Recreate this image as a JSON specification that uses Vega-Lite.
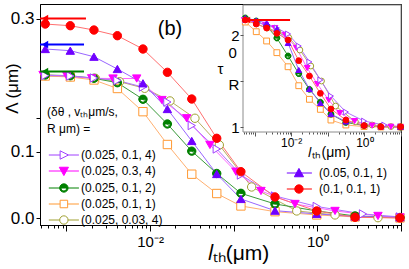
{
"$schema":"https://vega.github.io/schema/vega-lite/v6.json",
"width":361,"height":221,"autosize":"none",
"padding":{"left":40,"top":4,"right":8,"bottom":44},
"background":"white",
"config":{"view":{"stroke":"#000","strokeWidth":1},"font":"Liberation Sans",
"axis":{"grid":false,"domainColor":"#000","tickColor":"#000","labelColor":"#000","titleColor":"#000","labelFont":"Liberation Sans","titleFont":"Liberation Sans","titleFontWeight":"normal"},
"legend":{"labelFont":"Liberation Sans","labelFontSize":12,"titleFont":"Liberation Sans","titleFontSize":12,"titleFontWeight":"normal","padding":0,"symbolStrokeWidth":1,"labelLimit":0,"titleLimit":0}},
"datasets":{
"main":[
{"s":"(0.025, 0.03, 4)","x":0.000557,"y":0.2141},{"s":"(0.025, 0.03, 4)","x":0.00111,"y":0.2126},{"s":"(0.025, 0.03, 4)","x":0.00221,"y":0.2102},{"s":"(0.025, 0.03, 4)","x":0.00432,"y":0.2051},{"s":"(0.025, 0.03, 4)","x":0.00861,"y":0.1952},{"s":"(0.025, 0.03, 4)","x":0.0173,"y":0.1762},{"s":"(0.025, 0.03, 4)","x":0.0344,"y":0.1502},{"s":"(0.025, 0.03, 4)","x":0.0673,"y":0.1101},{"s":"(0.025, 0.03, 4)","x":0.164,"y":0.047},{"s":"(0.025, 0.03, 4)","x":0.568,"y":0.011},{"s":"(0.025, 0.03, 4)","x":1.63,"y":0.005},{"s":"(0.025, 0.03, 4)","x":5.32,"y":0.0009},
{"s":"(0.025, 0.1, 1)","x":0.000557,"y":0.2137},{"s":"(0.025, 0.1, 1)","x":0.00111,"y":0.2122},{"s":"(0.025, 0.1, 1)","x":0.00213,"y":0.2077},{"s":"(0.025, 0.1, 1)","x":0.00406,"y":0.1949},{"s":"(0.025, 0.1, 1)","x":0.00822,"y":0.1601},{"s":"(0.025, 0.1, 1)","x":0.0161,"y":0.1108},{"s":"(0.025, 0.1, 1)","x":0.0315,"y":0.0662},{"s":"(0.025, 0.1, 1)","x":0.0627,"y":0.0372},{"s":"(0.025, 0.1, 1)","x":0.122,"y":0.0185},{"s":"(0.025, 0.1, 1)","x":0.312,"y":0.0099},{"s":"(0.025, 0.1, 1)","x":0.984,"y":0.005},{"s":"(0.025, 0.1, 1)","x":2.83,"y":0.002},{"s":"(0.025, 0.1, 1)","x":9.75,"y":0.0005},
{"s":"(0.025, 0.1, 2)","x":0.000557,"y":0.2152},{"s":"(0.025, 0.1, 2)","x":0.00111,"y":0.2141},{"s":"(0.025, 0.1, 2)","x":0.00213,"y":0.2102},{"s":"(0.025, 0.1, 2)","x":0.00406,"y":0.2036},{"s":"(0.025, 0.1, 2)","x":0.00822,"y":0.1787},{"s":"(0.025, 0.1, 2)","x":0.0161,"y":0.1416},{"s":"(0.025, 0.1, 2)","x":0.0315,"y":0.1008},{"s":"(0.025, 0.1, 2)","x":0.0627,"y":0.0673},{"s":"(0.025, 0.1, 2)","x":0.122,"y":0.0375},{"s":"(0.025, 0.1, 2)","x":0.312,"y":0.0215},{"s":"(0.025, 0.1, 2)","x":0.984,"y":0.011},{"s":"(0.025, 0.1, 2)","x":2.83,"y":0.0035},{"s":"(0.025, 0.1, 2)","x":9.75,"y":0.0012},
{"s":"(0.025, 0.3, 4)","x":0.000524,"y":0.2152},{"s":"(0.025, 0.3, 4)","x":0.00101,"y":0.2137},{"s":"(0.025, 0.3, 4)","x":0.002,"y":0.2102},{"s":"(0.025, 0.3, 4)","x":0.0036,"y":0.2099},{"s":"(0.025, 0.3, 4)","x":0.00692,"y":0.2099},{"s":"(0.025, 0.3, 4)","x":0.01386,"y":0.1776},{"s":"(0.025, 0.3, 4)","x":0.0274,"y":0.1502},{"s":"(0.025, 0.3, 4)","x":0.052,"y":0.1101},{"s":"(0.025, 0.3, 4)","x":0.1064,"y":0.07},{"s":"(0.025, 0.3, 4)","x":0.212,"y":0.041},{"s":"(0.025, 0.3, 4)","x":0.541,"y":0.0215},{"s":"(0.025, 0.3, 4)","x":1.63,"y":0.011},{"s":"(0.025, 0.3, 4)","x":5.32,"y":0.0035},{"s":"(0.025, 0.3, 4)","x":9.75,"y":0.0012},
{"s":"(0.025, 0.1, 4)","x":0.000557,"y":0.2144},{"s":"(0.025, 0.1, 4)","x":0.00111,"y":0.2137},{"s":"(0.025, 0.1, 4)","x":0.00213,"y":0.2107},{"s":"(0.025, 0.1, 4)","x":0.00406,"y":0.2069},{"s":"(0.025, 0.1, 4)","x":0.00822,"y":0.1971},{"s":"(0.025, 0.1, 4)","x":0.0161,"y":0.1746},{"s":"(0.025, 0.1, 4)","x":0.0315,"y":0.1393},{"s":"(0.025, 0.1, 4)","x":0.0627,"y":0.1041},{"s":"(0.025, 0.1, 4)","x":0.122,"y":0.065},{"s":"(0.025, 0.1, 4)","x":0.312,"y":0.0335},{"s":"(0.025, 0.1, 4)","x":0.984,"y":0.0177},{"s":"(0.025, 0.1, 4)","x":3.52,"y":0.0065},{"s":"(0.025, 0.1, 4)","x":9.75,"y":0.002},
{"s":"(0.05, 0.1, 1)","x":0.000557,"y":0.2542},{"s":"(0.05, 0.1, 1)","x":0.00111,"y":0.2517},{"s":"(0.05, 0.1, 1)","x":0.00213,"y":0.2426},{"s":"(0.05, 0.1, 1)","x":0.00406,"y":0.2242},{"s":"(0.05, 0.1, 1)","x":0.00822,"y":0.2027},{"s":"(0.05, 0.1, 1)","x":0.0161,"y":0.1641},{"s":"(0.05, 0.1, 1)","x":0.0315,"y":0.1161},{"s":"(0.05, 0.1, 1)","x":0.0627,"y":0.0665},{"s":"(0.05, 0.1, 1)","x":0.122,"y":0.029},{"s":"(0.05, 0.1, 1)","x":0.312,"y":0.0114},{"s":"(0.05, 0.1, 1)","x":0.984,"y":0.0065},{"s":"(0.05, 0.1, 1)","x":2.83,"y":0.0027},{"s":"(0.05, 0.1, 1)","x":9.75,"y":0.0015},
{"s":"(0.1, 0.1, 1)","x":0.000557,"y":0.2917},{"s":"(0.1, 0.1, 1)","x":0.00111,"y":0.2892},{"s":"(0.1, 0.1, 1)","x":0.00213,"y":0.2827},{"s":"(0.1, 0.1, 1)","x":0.00406,"y":0.2742},{"s":"(0.1, 0.1, 1)","x":0.00822,"y":0.2542},{"s":"(0.1, 0.1, 1)","x":0.0161,"y":0.2192},{"s":"(0.1, 0.1, 1)","x":0.0315,"y":0.1791},{"s":"(0.1, 0.1, 1)","x":0.0627,"y":0.1201},{"s":"(0.1, 0.1, 1)","x":0.122,"y":0.07},{"s":"(0.1, 0.1, 1)","x":0.312,"y":0.032},{"s":"(0.1, 0.1, 1)","x":0.984,"y":0.011},{"s":"(0.1, 0.1, 1)","x":2.83,"y":0.0015},{"s":"(0.1, 0.1, 1)","x":9.75,"y":0.0005}
],
"inset":[
{"s":"(0.025, 0.03, 4)","x":0.000557,"t":2.163},{"s":"(0.025, 0.03, 4)","x":0.00111,"t":2.12},{"s":"(0.025, 0.03, 4)","x":0.00221,"t":2.076},{"s":"(0.025, 0.03, 4)","x":0.00432,"t":2.033},{"s":"(0.025, 0.03, 4)","x":0.00861,"t":1.971},{"s":"(0.025, 0.03, 4)","x":0.0173,"t":1.837},{"s":"(0.025, 0.03, 4)","x":0.0344,"t":1.663},{"s":"(0.025, 0.03, 4)","x":0.0673,"t":1.5},{"s":"(0.025, 0.03, 4)","x":0.164,"t":1.228},{"s":"(0.025, 0.03, 4)","x":0.568,"t":1.058},{"s":"(0.025, 0.03, 4)","x":1.63,"t":1.022},{"s":"(0.025, 0.03, 4)","x":5.32,"t":1.005},
{"s":"(0.025, 0.1, 1)","x":0.000557,"t":2.141},{"s":"(0.025, 0.1, 1)","x":0.00111,"t":2.036},{"s":"(0.025, 0.1, 1)","x":0.00213,"t":1.935},{"s":"(0.025, 0.1, 1)","x":0.00406,"t":1.808},{"s":"(0.025, 0.1, 1)","x":0.00822,"t":1.655},{"s":"(0.025, 0.1, 1)","x":0.0161,"t":1.449},{"s":"(0.025, 0.1, 1)","x":0.0315,"t":1.301},{"s":"(0.025, 0.1, 1)","x":0.0627,"t":1.192},{"s":"(0.025, 0.1, 1)","x":0.122,"t":1.076},{"s":"(0.025, 0.1, 1)","x":0.312,"t":1.022},{"s":"(0.025, 0.1, 1)","x":0.984,"t":1.005},{"s":"(0.025, 0.1, 1)","x":2.83,"t":1.0},{"s":"(0.025, 0.1, 1)","x":9.75,"t":1.0},
{"s":"(0.025, 0.1, 2)","x":0.000557,"t":2.185},{"s":"(0.025, 0.1, 2)","x":0.00111,"t":2.152},{"s":"(0.025, 0.1, 2)","x":0.00213,"t":2.098},{"s":"(0.025, 0.1, 2)","x":0.00406,"t":1.967},{"s":"(0.025, 0.1, 2)","x":0.00822,"t":1.772},{"s":"(0.025, 0.1, 2)","x":0.0161,"t":1.58},{"s":"(0.025, 0.1, 2)","x":0.0315,"t":1.41},{"s":"(0.025, 0.1, 2)","x":0.0627,"t":1.27},{"s":"(0.025, 0.1, 2)","x":0.122,"t":1.14},{"s":"(0.025, 0.1, 2)","x":0.312,"t":1.05},{"s":"(0.025, 0.1, 2)","x":0.984,"t":1.016},{"s":"(0.025, 0.1, 2)","x":2.83,"t":1.005},{"s":"(0.025, 0.1, 2)","x":9.75,"t":1.0},
{"s":"(0.025, 0.3, 4)","x":0.000524,"t":2.163},{"s":"(0.025, 0.3, 4)","x":0.00101,"t":2.141},{"s":"(0.025, 0.3, 4)","x":0.002,"t":2.109},{"s":"(0.025, 0.3, 4)","x":0.0036,"t":2.076},{"s":"(0.025, 0.3, 4)","x":0.00692,"t":2.0},{"s":"(0.025, 0.3, 4)","x":0.01386,"t":1.859},{"s":"(0.025, 0.3, 4)","x":0.0274,"t":1.641},{"s":"(0.025, 0.3, 4)","x":0.052,"t":1.467},{"s":"(0.025, 0.3, 4)","x":0.1064,"t":1.293},{"s":"(0.025, 0.3, 4)","x":0.212,"t":1.152},{"s":"(0.025, 0.3, 4)","x":0.541,"t":1.065},{"s":"(0.025, 0.3, 4)","x":1.63,"t":1.016},{"s":"(0.025, 0.3, 4)","x":5.32,"t":1.003},{"s":"(0.025, 0.3, 4)","x":9.75,"t":1.0},
{"s":"(0.025, 0.1, 4)","x":0.000557,"t":2.163},{"s":"(0.025, 0.1, 4)","x":0.00111,"t":2.141},{"s":"(0.025, 0.1, 4)","x":0.00213,"t":2.109},{"s":"(0.025, 0.1, 4)","x":0.00406,"t":2.076},{"s":"(0.025, 0.1, 4)","x":0.00822,"t":2.011},{"s":"(0.025, 0.1, 4)","x":0.0161,"t":1.88},{"s":"(0.025, 0.1, 4)","x":0.0315,"t":1.707},{"s":"(0.025, 0.1, 4)","x":0.0627,"t":1.511},{"s":"(0.025, 0.1, 4)","x":0.122,"t":1.337},{"s":"(0.025, 0.1, 4)","x":0.312,"t":1.163},{"s":"(0.025, 0.1, 4)","x":0.984,"t":1.065},{"s":"(0.025, 0.1, 4)","x":3.52,"t":1.022},{"s":"(0.025, 0.1, 4)","x":9.75,"t":1.005},
{"s":"(0.05, 0.1, 1)","x":0.000557,"t":2.185},{"s":"(0.05, 0.1, 1)","x":0.00111,"t":2.158},{"s":"(0.05, 0.1, 1)","x":0.00213,"t":2.13},{"s":"(0.05, 0.1, 1)","x":0.00406,"t":2.065},{"s":"(0.05, 0.1, 1)","x":0.00822,"t":1.913},{"s":"(0.05, 0.1, 1)","x":0.0161,"t":1.62},{"s":"(0.05, 0.1, 1)","x":0.0315,"t":1.413},{"s":"(0.05, 0.1, 1)","x":0.0627,"t":1.261},{"s":"(0.05, 0.1, 1)","x":0.122,"t":1.141},{"s":"(0.05, 0.1, 1)","x":0.312,"t":1.06},{"s":"(0.05, 0.1, 1)","x":0.984,"t":1.022},{"s":"(0.05, 0.1, 1)","x":2.83,"t":1.005},{"s":"(0.05, 0.1, 1)","x":9.75,"t":1.0},
{"s":"(0.1, 0.1, 1)","x":0.000557,"t":2.163},{"s":"(0.1, 0.1, 1)","x":0.00111,"t":2.12},{"s":"(0.1, 0.1, 1)","x":0.00213,"t":2.076},{"s":"(0.1, 0.1, 1)","x":0.00406,"t":2.018},{"s":"(0.1, 0.1, 1)","x":0.00822,"t":1.946},{"s":"(0.1, 0.1, 1)","x":0.0161,"t":1.721},{"s":"(0.1, 0.1, 1)","x":0.0315,"t":1.554},{"s":"(0.1, 0.1, 1)","x":0.0627,"t":1.366},{"s":"(0.1, 0.1, 1)","x":0.122,"t":1.196},{"s":"(0.1, 0.1, 1)","x":0.312,"t":1.076},{"s":"(0.1, 0.1, 1)","x":0.984,"t":1.016},{"s":"(0.1, 0.1, 1)","x":2.83,"t":1.003},{"s":"(0.1, 0.1, 1)","x":9.75,"t":1.003}
],
"arrows":[{"x1":0.000482,"xh":0.000553,"y":0.3,"x2":0.00171,"c":"#ff0000"},{"x1":0.000482,"xh":0.000553,"y":0.261,"x2":0.00162,"c":"#0000ff"},{"x1":0.000482,"xh":0.000553,"y":0.2205,"x2":0.00162,"c":"#008000"}],
"iarrow":[{"x1":0.000482,"xh":0.00063,"y":2.163,"x2":0.0093}],
"frame":[{"x1":0.000482,"x2":10.03,"y1":0.946,"y2":2.326}],
"lbl":[{"x":0.0173,"y":0.285,"t":"(b)"}]
},
"resolve":{"scale":{"x":"independent","y":"independent","color":"independent","fill":"independent","stroke":"independent","shape":"independent"},"axis":{"x":"independent","y":"independent"},"legend":{"shape":"independent","fill":"independent","stroke":"independent","color":"independent"}},
"layer":[
{"layer":[
 {"data":{"name":"main"},"mark":{"type":"line","strokeWidth":1},
  "encoding":{
   "x":{"field":"x","type":"quantitative","scale":{"type":"log","domain":[0.000482,10.03],"nice":false},
    "axis":{"orient":"bottom","values":[0.0005,0.0006,0.0007,0.0008,0.0009,0.001,0.002,0.003,0.004,0.005,0.006,0.007,0.008,0.009,0.01,0.02,0.03,0.04,0.05,0.06,0.07,0.08,0.09,0.1,0.2,0.3,0.4,0.5,0.6,0.7,0.8,0.9,1,2,3,4,5,6,7,8,9,10],
     "labelExpr":"datum.value == 0.01 ? '10⁻²' : datum.value == 1 ? '10⁰' : ''",
     "tickSize":{"condition":{"test":"datum.value==0.001||datum.value==0.01||datum.value==0.1||datum.value==1||datum.value==10","value":6},"value":3},
     "labelFontSize":15,"labelPadding":3,"labelOverlap":false,"labelBound":false,"labelFlush":false,
     "title":"𝑙ₜₕ(μm)","titleFontSize":21,"titleX":198,"titleY":34,"titleBaseline":"alphabetic","titleAlign":"center"}},
   "y":{"field":"y","type":"quantitative","scale":{"domain":[-0.0101,0.3218],"nice":false,"zero":false},
    "axis":{"orient":"left","values":[0,0.1,0.15,0.3],"labelExpr":"datum.value == 0.15 ? '' : format(datum.value, '.1f')","tickSize":4,"labelFontSize":17,"labelPadding":2,
     "title":"Λ (μm)","titleFontSize":17,"titleX":-28,"titleY":84,"titleAngle":-90,"titleBaseline":"middle","titleAlign":"center"}},
   "color":{"field":"s","type":"nominal","scale":{"domain":["(0.025, 0.1, 4)","(0.025, 0.3, 4)","(0.025, 0.1, 2)","(0.025, 0.1, 1)","(0.025, 0.03, 4)","(0.05, 0.1, 1)","(0.1, 0.1, 1)"],"range":["#b070ff","#ff66ff","#3a9a3a","#ffb070","#b8b060","#9966ff","#ff7070"]},"legend":null}}},
 {"data":{"name":"main"},"mark":{"type":"point","size":70,"strokeWidth":1,"opacity":1},
  "encoding":{
   "x":{"field":"x","type":"quantitative"},
   "y":{"field":"y","type":"quantitative"},
   "shape":{"field":"s","type":"nominal","scale":{"domain":["(0.025, 0.1, 4)","(0.025, 0.3, 4)","(0.025, 0.1, 2)","(0.025, 0.1, 1)","(0.025, 0.03, 4)","(0.05, 0.1, 1)","(0.1, 0.1, 1)"],"range":["triangle-right","triangle-down","M-1,0A1,1,0,0,1,1,0ZM-1,0A1,1,0,0,0,1,0L0.7,0A0.7,0.7,0,0,1,-0.7,0Z","square","circle","triangle-up","circle"]},"legend":null},
   "fill":{"field":"s","type":"nominal","scale":{"domain":["(0.025, 0.1, 4)","(0.025, 0.3, 4)","(0.025, 0.1, 2)","(0.025, 0.1, 1)","(0.025, 0.03, 4)","(0.05, 0.1, 1)","(0.1, 0.1, 1)"],"range":["#ffffff","#ff00ff","#008000","#ffffff","#ffffff","#7000ff","#ff0000"]},"legend":null},
   "stroke":{"field":"s","type":"nominal","scale":{"domain":["(0.025, 0.1, 4)","(0.025, 0.3, 4)","(0.025, 0.1, 2)","(0.025, 0.1, 1)","(0.025, 0.03, 4)","(0.05, 0.1, 1)","(0.1, 0.1, 1)"],"range":["#a040ff","#ff00ff","#008000","#ff9933","#a0a030","#7000ff","#ff0000"]},"legend":null}}}
]},
{"layer":[
 {"data":{"name":"arrows"},"mark":{"type":"rule","strokeWidth":2},
  "encoding":{"x":{"field":"x1","type":"quantitative","scale":{"type":"log","domain":[0.000482,10.03],"nice":false},"axis":null},
   "x2":{"field":"x2"},
   "y":{"field":"y","type":"quantitative","scale":{"domain":[-0.0101,0.3218],"nice":false,"zero":false},"axis":null},
   "color":{"field":"c","type":"nominal","scale":null}}},
 {"data":{"name":"arrows"},"mark":{"type":"point","shape":"triangle-left","filled":true,"size":55,"opacity":1},
  "encoding":{"x":{"field":"xh","type":"quantitative"},"y":{"field":"y","type":"quantitative"},"color":{"field":"c","type":"nominal","scale":null}}},
 {"data":{"name":"lbl"},"mark":{"type":"text","fontSize":20,"font":"Liberation Sans","baseline":"middle","align":"center"},
  "encoding":{"x":{"field":"x","type":"quantitative"},"y":{"field":"y","type":"quantitative"},"text":{"field":"t","type":"nominal"}}}
]},
{"layer":[
 {"data":{"name":"frame"},"mark":{"type":"rect","fill":"#ffffff","stroke":"#8c8c8c","strokeWidth":1},
  "encoding":{
   "x":{"field":"x1","type":"quantitative","scale":{"type":"log","domain":[0.000482,10.03],"range":[203,361],"nice":false},
    "axis":{"orient":"bottom","offset":-93,"domain":false,"zindex":1,"values":[0.0005,0.0006,0.0007,0.0008,0.0009,0.001,0.002,0.003,0.004,0.005,0.006,0.007,0.008,0.009,0.01,0.02,0.03,0.04,0.05,0.06,0.07,0.08,0.09,0.1,0.2,0.3,0.4,0.5,0.6,0.7,0.8,0.9,1,2,3,4,5,6,7,8,9,10],
     "labelExpr":"datum.value == 0.01 ? '10⁻²' : datum.value == 1 ? '10⁰' : ''",
     "tickSize":{"condition":{"test":"datum.value==0.001||datum.value==0.01||datum.value==0.1||datum.value==1||datum.value==10","value":4},"value":2},
     "tickColor":"#555555","labelFontSize":12,"labelPadding":1,"labelOverlap":false,"labelBound":false,"labelFlush":false,
     "title":"𝑙ₜₕ(μm)","titleFontSize":14,"titleX":289,"titleY":24,"titleBaseline":"alphabetic","titleAlign":"center"}},
   "x2":{"field":"x2"},
   "y":{"field":"y1","type":"quantitative","scale":{"domain":[0.946,2.326],"range":[128,1],"nice":false,"zero":false},
    "axis":{"orient":"left","offset":-203,"domain":false,"zindex":1,"values":[1,1.5,2],"labelExpr":"datum.value == 1.5 ? '' : format(datum.value, 'd')","tickSize":3,"tickColor":"#555555","labelFontSize":15,"labelPadding":1,
     "title":["\u28000","τ","\u2800R"],"titleFontSize":15,"titleLineHeight":16,"titleAngle":0,"titleAlign":"left","titleBaseline":"top","titleX":-26,"titleY":41}},
   "y2":{"field":"y2"}}},
 {"data":{"name":"inset"},"mark":{"type":"line","strokeWidth":1},
  "encoding":{"x":{"field":"x","type":"quantitative"},"y":{"field":"t","type":"quantitative"},
   "color":{"field":"s","type":"nominal","scale":{"domain":["(0.025, 0.1, 4)","(0.025, 0.3, 4)","(0.025, 0.1, 2)","(0.025, 0.1, 1)","(0.025, 0.03, 4)","(0.05, 0.1, 1)","(0.1, 0.1, 1)"],"range":["#b070ff","#ff66ff","#3a9a3a","#ffb070","#b8b060","#9966ff","#ff7070"]},"legend":null}}},
 {"data":{"name":"inset"},"mark":{"type":"point","size":34,"strokeWidth":1,"opacity":1},
  "encoding":{"x":{"field":"x","type":"quantitative"},"y":{"field":"t","type":"quantitative"},
   "shape":{"field":"s","type":"nominal","scale":{"domain":["(0.025, 0.1, 4)","(0.025, 0.3, 4)","(0.025, 0.1, 2)","(0.025, 0.1, 1)","(0.025, 0.03, 4)","(0.05, 0.1, 1)","(0.1, 0.1, 1)"],"range":["triangle-right","triangle-down","M-1,0A1,1,0,0,1,1,0ZM-1,0A1,1,0,0,0,1,0L0.7,0A0.7,0.7,0,0,1,-0.7,0Z","square","circle","triangle-up","circle"]},"legend":null},
   "fill":{"field":"s","type":"nominal","scale":{"domain":["(0.025, 0.1, 4)","(0.025, 0.3, 4)","(0.025, 0.1, 2)","(0.025, 0.1, 1)","(0.025, 0.03, 4)","(0.05, 0.1, 1)","(0.1, 0.1, 1)"],"range":["#ffffff","#ff00ff","#008000","#ffffff","#ffffff","#7000ff","#ff0000"]},"legend":null},
   "stroke":{"field":"s","type":"nominal","scale":{"domain":["(0.025, 0.1, 4)","(0.025, 0.3, 4)","(0.025, 0.1, 2)","(0.025, 0.1, 1)","(0.025, 0.03, 4)","(0.05, 0.1, 1)","(0.1, 0.1, 1)"],"range":["#a040ff","#ff00ff","#008000","#ff9933","#a0a030","#7000ff","#ff0000"]},"legend":null}}},
 {"data":{"name":"iarrow"},"mark":{"type":"rule","color":"#ff0000","strokeWidth":2},
  "encoding":{"x":{"field":"x1","type":"quantitative"},"x2":{"field":"x2"},"y":{"field":"y","type":"quantitative"}}},
 {"data":{"name":"iarrow"},"mark":{"type":"point","shape":"triangle-left","filled":true,"color":"#ff0000","size":45,"opacity":1},
  "encoding":{"x":{"field":"xh","type":"quantitative"},"y":{"field":"y","type":"quantitative"}}}
]},
{"data":{"values":[]},"mark":{"type":"point","size":70,"strokeWidth":1,"opacity":1},
 "encoding":{
  "x":{"field":"x","type":"quantitative","axis":null},
  "y":{"field":"y","type":"quantitative","axis":null},
  "shape":{"field":"s","type":"nominal","scale":{"domain":["(0.025, 0.1, 4)","(0.025, 0.3, 4)","(0.025, 0.1, 2)","(0.025, 0.1, 1)","(0.025, 0.03, 4)"],"range":["M-1,0H1.7M3.7,0H6.2M1.7,-1L3.7,0L1.7,1Z","M-1,0H6.2M1.5,-0.9L3.7,-0.9L2.6,1.1Z","M-1,0H1.6M3.6,0H6.2M1.6,0A1,1,0,0,1,3.6,0ZM1.6,0A1,1,0,0,0,3.6,0L3.3,0A0.7,0.7,0,0,1,1.9,0Z","M-1,0H1.7M3.5,0H6.2M1.7,-0.9H3.5V0.9H1.7Z","M-1,0H1.6M3.6,0H6.2M1.6,0A1,1,0,1,1,3.6,0A1,1,0,1,1,1.6,0Z"]},
   "legend":{"orient":"none","legendX":7,"legendY":103,"title":["(δθ , vₜₕμm/s,","R μm) ="],"titleLineHeight":16.5,"titlePadding":13.5,"labelOffset":22,"rowPadding":3,"symbolSize":70}},
  "fill":{"field":"s","type":"nominal","scale":{"domain":["(0.025, 0.1, 4)","(0.025, 0.3, 4)","(0.025, 0.1, 2)","(0.025, 0.1, 1)","(0.025, 0.03, 4)"],"range":["#ffffff","#ff00ff","#008000","#ffffff","#ffffff"]},
   "legend":{"orient":"none","legendX":7,"legendY":103,"title":["(δθ , vₜₕμm/s,","R μm) ="],"titleLineHeight":16.5,"titlePadding":13.5,"labelOffset":22,"rowPadding":3,"symbolSize":70}},
  "stroke":{"field":"s","type":"nominal","scale":{"domain":["(0.025, 0.1, 4)","(0.025, 0.3, 4)","(0.025, 0.1, 2)","(0.025, 0.1, 1)","(0.025, 0.03, 4)"],"range":["#a040ff","#ff00ff","#008000","#ff9933","#a0a030"]},
   "legend":{"orient":"none","legendX":7,"legendY":103,"title":["(δθ , vₜₕμm/s,","R μm) ="],"titleLineHeight":16.5,"titlePadding":13.5,"labelOffset":22,"rowPadding":3,"symbolSize":70}}}},
{"data":{"values":[]},"mark":{"type":"point","size":70,"strokeWidth":1,"opacity":1},
 "encoding":{
  "x":{"field":"x","type":"quantitative","axis":null},
  "y":{"field":"y","type":"quantitative","axis":null},
  "shape":{"field":"s","type":"nominal","scale":{"domain":["(0.05, 0.1, 1)","(0.1, 0.1, 1)"],"range":["M-1,0H5M0.8,0.9L3,0.9L1.9,-1.1Z","M-1,0H5M0.9,0A1,1,0,1,1,2.9,0A1,1,0,1,1,0.9,0Z"]},
   "legend":{"orient":"none","legendX":245,"legendY":163,"title":null,"labelOffset":22,"rowPadding":3,"symbolSize":70}},
  "fill":{"field":"s","type":"nominal","scale":{"domain":["(0.05, 0.1, 1)","(0.1, 0.1, 1)"],"range":["#7000ff","#ff0000"]},
   "legend":{"orient":"none","legendX":245,"legendY":163,"title":null,"labelOffset":22,"rowPadding":3,"symbolSize":70}},
  "stroke":{"field":"s","type":"nominal","scale":{"domain":["(0.05, 0.1, 1)","(0.1, 0.1, 1)"],"range":["#7000ff","#ff0000"]},
   "legend":{"orient":"none","legendX":245,"legendY":163,"title":null,"labelOffset":22,"rowPadding":3,"symbolSize":70}}}}
]
}
